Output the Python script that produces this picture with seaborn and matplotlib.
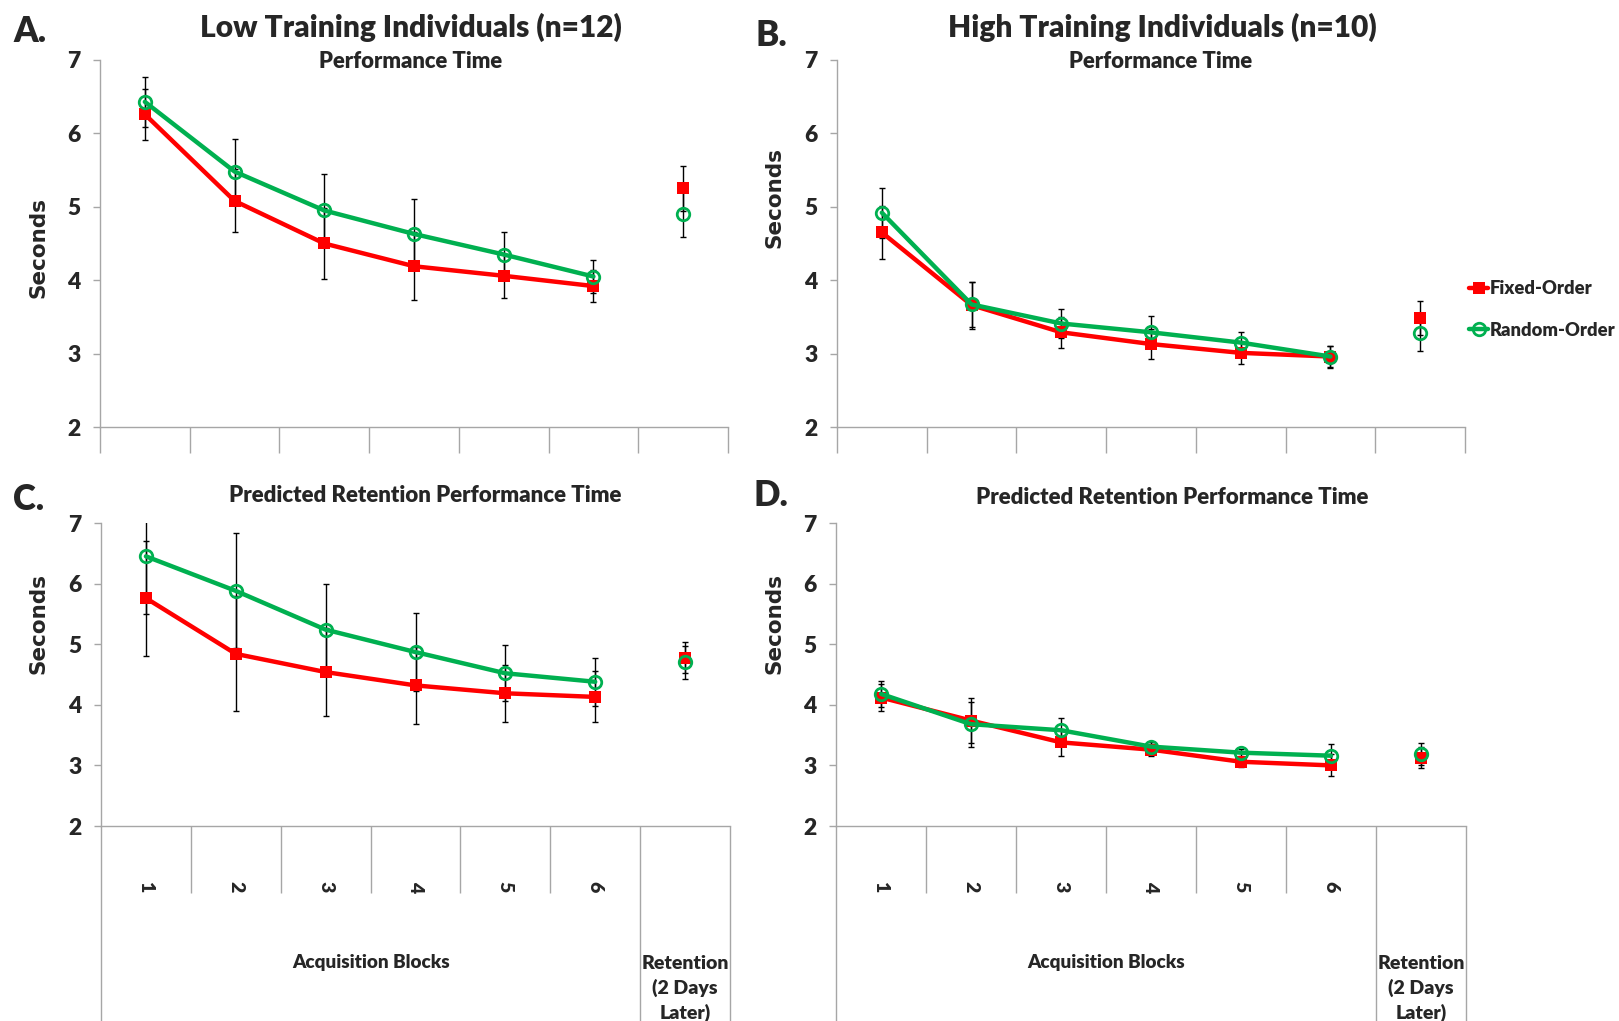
# Import necessary libraries
import numpy as np
import pandas as pd
import matplotlib
matplotlib.use('Agg')
import matplotlib.pyplot as plt
from matplotlib import font_manager
from matplotlib.lines import Line2D
import seaborn as sns

# Acquisition block labels and retention category
blocks = ['1', '2', '3', '4', '5', '6']
retention_label = 'Retention\n(2 Days\nLater)'
groups = ['Fixed-Order', 'Random-Order']

# A. Low training, performance time
low_perf_fixed = [6.26, 5.08, 4.50, 4.19, 4.06, 3.92]
low_perf_fixed_err = [0.35, 0.43, 0.48, 0.46, 0.30, 0.22]
low_perf_random = [6.43, 5.48, 4.95, 4.63, 4.35, 4.05]
low_perf_random_err = [0.34, 0.45, 0.50, 0.47, 0.31, 0.23]
low_perf_ret = [5.25, 4.90]
low_perf_ret_err = [0.31, 0.31]

# B. High training, performance time
high_perf_fixed = [4.65, 3.66, 3.29, 3.13, 3.01, 2.96]
high_perf_fixed_err = [0.36, 0.32, 0.21, 0.21, 0.15, 0.15]
high_perf_random = [4.92, 3.67, 3.41, 3.29, 3.15, 2.96]
high_perf_random_err = [0.34, 0.31, 0.20, 0.22, 0.15, 0.14]
high_perf_ret = [3.48, 3.28]
high_perf_ret_err = [0.23, 0.24]

# C. Low training, predicted retention performance time
low_pred_fixed = [5.76, 4.84, 4.54, 4.32, 4.19, 4.13]
low_pred_fixed_err = [0.95, 0.95, 0.73, 0.64, 0.47, 0.42]
low_pred_random = [6.45, 5.88, 5.24, 4.87, 4.52, 4.38]
low_pred_random_err = [0.95, 0.95, 0.75, 0.64, 0.46, 0.40]
low_pred_ret = [4.78, 4.70]
low_pred_ret_err = [0.25, 0.27]

# D. High training, predicted retention performance time
high_pred_fixed = [4.12, 3.74, 3.38, 3.26, 3.06, 3.00]
high_pred_fixed_err = [0.22, 0.37, 0.22, 0.10, 0.08, 0.18]
high_pred_random = [4.18, 3.68, 3.58, 3.31, 3.21, 3.16]
high_pred_random_err = [0.21, 0.37, 0.20, 0.08, 0.06, 0.19]
high_pred_ret = [3.13, 3.19]
high_pred_ret_err = [0.18, 0.18]

RED = '#FF0000'
GREEN = '#00B050'
GRAY = '#A6A6A6'
W, H = 1619, 1021


def pick_font(names):
    """Return the first installed family of the list."""
    for name in names:
        try:
            font_manager.findfont(font_manager.FontProperties(family=name),
                                  fallback_to_default=False)
            return name
        except ValueError:
            continue
    return 'DejaVu Sans'


def fx(px):
    return px / W


def fy(py):
    return 1 - py / H


def draw_panel(fig, rect, fixed, fixed_err, random, random_err, ret, ret_err, bottom_labels):
    """Draw one panel of the figure."""
    left, top, right, bottom = rect
    ax = fig.add_axes([fx(left), fy(bottom), fx(right - left), (bottom - top) / H])

    x = np.arange(len(blocks)) + 0.5
    x_ret = len(blocks) + 0.5
    df = pd.DataFrame({'pos': np.concatenate([x, x]),
                       'time': fixed + random,
                       'err': fixed_err + random_err,
                       'group': np.repeat(groups, len(blocks))})

    # Error bars first so the lines sit on top
    for g in groups:
        sub = df[df['group'] == g]
        ax.errorbar(sub['pos'], sub['time'], yerr=sub['err'], fmt='none', ecolor='black',
                    elinewidth=1, capsize=2.5, capthick=1, zorder=2)
    ax.errorbar([x_ret, x_ret], ret, yerr=ret_err, fmt='none', ecolor='black',
                elinewidth=1, capsize=2.5, capthick=1, zorder=2)

    styles = {
        'Fixed-Order': dict(color=RED, marker='s', markersize=9, mec=RED, mfc=RED, mew=0),
        'Random-Order': dict(color=GREEN, marker='o', markersize=9, mec=GREEN, mfc='none', mew=2),
    }
    for i, g in enumerate(groups):
        sub = df[df['group'] == g]
        sns.lineplot(x=sub['pos'].values, y=sub['time'].values, lw=3.2, ax=ax,
                     errorbar=None, zorder=3 + i, **styles[g])
        sns.lineplot(x=[x_ret], y=[ret[i]], lw=0, ax=ax, errorbar=None,
                     zorder=3 + i, **styles[g])

    ax.set_xlim(0, len(blocks) + 1)
    ax.set_ylim(2, 7)
    ax.set_yticks(range(2, 8))
    ax.set_ylabel('')
    ax.set_xlabel('')
    for s in ['top', 'right']:
        ax.spines[s].set_visible(False)
    for s in ['left', 'bottom']:
        ax.spines[s].set_color(GRAY)
        ax.spines[s].set_linewidth(1)
    ax.tick_params(axis='y', left=True, direction='out', length=5, width=1, color=GRAY,
                   labelsize=16.5, pad=9)
    for lab in ax.get_yticklabels():
        lab.set_fontweight('heavy')

    if bottom_labels:
        # long dividers around the two groups, short ones between blocks
        ax.set_xticks([0, len(blocks), len(blocks) + 1])
        ax.set_xticks(range(1, len(blocks)), minor=True)
        ax.tick_params(axis='x', which='major', bottom=True, direction='out', length=145,
                       width=1, color=GRAY, labelbottom=False)
        ax.tick_params(axis='x', which='minor', bottom=True, direction='out', length=48,
                       width=1, color=GRAY, labelbottom=False)
        tr = ax.get_xaxis_transform()
        for xi, lab in zip(x, blocks):
            ax.text(xi, -0.2, lab, transform=tr, rotation=270, ha='center', va='center',
                    fontsize=14, fontweight='heavy')
        ax.text(len(blocks) / 2, -0.449, 'Acquisition Blocks', transform=tr, ha='center',
                va='center', fontsize=13.6, fontweight='heavy')
        ax.text(x_ret, -0.535, retention_label, transform=tr, ha='center', va='center',
                fontsize=14, fontweight='heavy', linespacing=1.45)
    else:
        ax.set_xticks(range(0, len(blocks) + 2))
        ax.tick_params(axis='x', bottom=True, direction='out', length=19, width=1,
                       color=GRAY, labelbottom=False)
    return ax


def main():
    sns.set_theme(style='white')
    main_font = pick_font(['Lato', 'Roboto', 'Open Sans'])
    plt.rcParams['font.family'] = [main_font, 'DejaVu Sans']

    fig = plt.figure(figsize=(W / 100, H / 100), dpi=100)

    draw_panel(fig, (100, 60, 728, 427), low_perf_fixed, low_perf_fixed_err,
               low_perf_random, low_perf_random_err, low_perf_ret, low_perf_ret_err, False)
    draw_panel(fig, (837, 60, 1465, 427), high_perf_fixed, high_perf_fixed_err,
               high_perf_random, high_perf_random_err, high_perf_ret, high_perf_ret_err, False)
    draw_panel(fig, (101, 523, 730, 826), low_pred_fixed, low_pred_fixed_err,
               low_pred_random, low_pred_random_err, low_pred_ret, low_pred_ret_err, True)
    draw_panel(fig, (836, 523, 1466, 826), high_pred_fixed, high_pred_fixed_err,
               high_pred_random, high_pred_random_err, high_pred_ret, high_pred_ret_err, True)

    # Titles, panel letters and y labels
    fig.text(fx(411), fy(27), 'Low Training Individuals (n=12)', ha='center', va='center',
             fontsize=21.5, fontweight='heavy')
    fig.text(fx(1162), fy(27), 'High Training Individuals (n=10)', ha='center', va='center',
             fontsize=21.5, fontweight='heavy')
    fig.text(fx(411), fy(61), 'Performance Time', ha='center', va='center',
             fontsize=15.8, fontweight='heavy')
    fig.text(fx(1161), fy(61), 'Performance Time', ha='center', va='center',
             fontsize=15.8, fontweight='heavy')
    fig.text(fx(425), fy(495), 'Predicted Retention Performance Time', ha='center',
             va='center', fontsize=16, fontweight='heavy')
    fig.text(fx(1172), fy(497), 'Predicted Retention Performance Time', ha='center',
             va='center', fontsize=16, fontweight='heavy')
    for lab, px, py in [('A.', 30, 32), ('B.', 771, 36), ('C.', 29, 500), ('D.', 771, 496)]:
        fig.text(fx(px), fy(py), lab, ha='center', va='center', fontsize=25,
                 fontweight='heavy')
    for px, py in [(39, 248), (774, 198), (38, 624), (774, 624)]:
        fig.text(fx(px), fy(py), 'Seconds', ha='center', va='center', rotation=90,
                 fontsize=15.5, fontweight='bold', family='DejaVu Sans')

    # Legend beside panel B
    handles = [Line2D([], [], color=RED, lw=3.2, marker='s', markersize=9, mew=0),
               Line2D([], [], color=GREEN, lw=3.2, marker='o', markersize=9, mfc='none', mew=2)]
    fig.legend(handles, groups, loc='center left', bbox_to_anchor=(fx(1469), fy(309.5)),
               frameon=False, handlelength=1.05, handletextpad=0.08,
               labelspacing=1.35, borderpad=0, borderaxespad=0,
               prop={'weight': 'heavy', 'size': 13.2})

    fig.savefig('out.png', dpi=100)


if __name__ == '__main__':
    main()
